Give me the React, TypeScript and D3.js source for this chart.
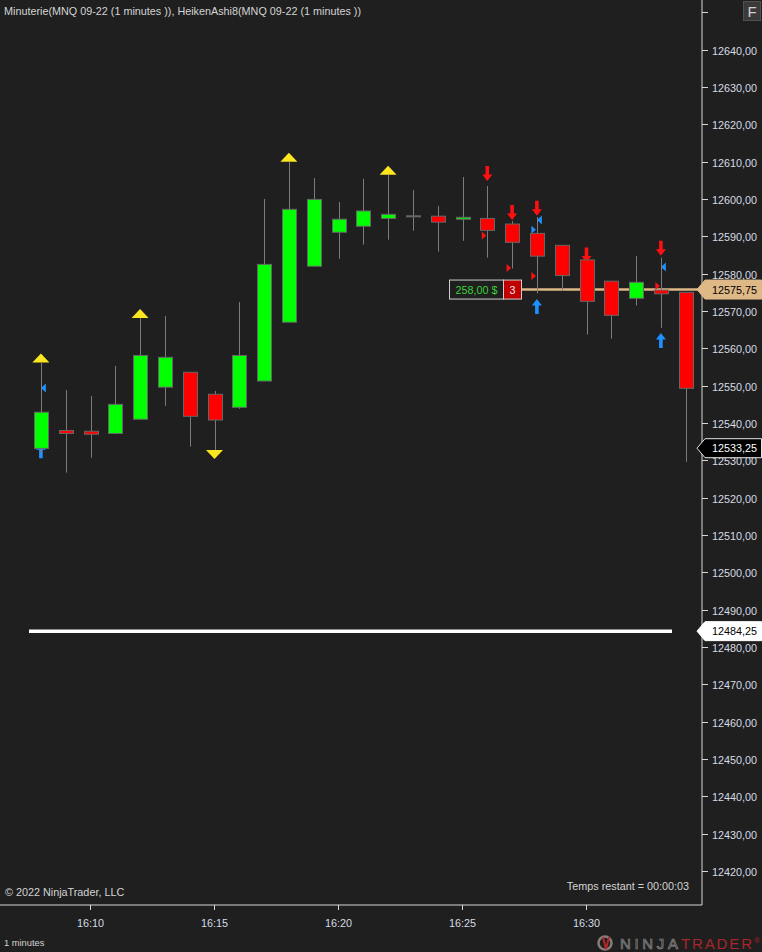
import React, { useEffect, useRef } from "react";
import * as d3 from "d3";

// Heiken Ashi bars, MNQ 09-22, 1 minute
const times = ["16:08", "16:09", "16:10", "16:11", "16:12", "16:13", "16:14", "16:15", "16:16", "16:17", "16:18", "16:19", "16:20", "16:21", "16:22", "16:23", "16:24", "16:25", "16:26", "16:27", "16:28", "16:29", "16:30", "16:31", "16:32", "16:33", "16:34"];
const opens = [12533.2, 12538.0, 12537.8, 12537.2, 12541.0, 12549.6, 12553.6, 12547.7, 12544.2, 12551.25, 12567.0, 12582.0, 12591.1, 12592.7, 12594.8, 12595.5, 12595.4, 12594.6, 12594.8, 12593.3, 12590.8, 12587.6, 12583.7, 12578.0, 12573.4, 12575.6, 12575.0];
const closes = [12542.9, 12537.2, 12537.0, 12545.0, 12558.1, 12557.6, 12541.8, 12540.8, 12558.1, 12582.5, 12597.25, 12599.9, 12594.6, 12596.8, 12595.9, 12595.5, 12593.8, 12595.1, 12591.6, 12588.4, 12584.7, 12579.5, 12572.6, 12568.85, 12577.7, 12574.6, 12549.3];
const highs = [12556.2, 12548.8, 12547.2, 12555.3, 12568.1, 12568.7, 12553.6, 12548.6, 12572.4, 12600.0, 12610.0, 12605.6, 12599.2, 12605.4, 12606.5, 12602.4, 12598.1, 12605.9, 12603.5, 12594.1, 12595.2, 12587.6, 12583.7, 12578.0, 12584.7, 12584.3, 12575.0];
const lows = [12532.0, 12526.7, 12530.7, 12537.0, 12541.0, 12544.6, 12533.7, 12532.8, 12543.8, 12551.25, 12567.0, 12582.0, 12584.0, 12587.8, 12589.1, 12591.5, 12585.9, 12588.8, 12584.3, 12581.4, 12574.7, 12575.4, 12563.7, 12562.6, 12571.5, 12565.5, 12529.6];

// indicator markers (bar index, price of the tip)
const yellowUp = [0, 4, 10, 14];
const yellowDown = [7];
const redDownArrows = [
  { i: 18, price: 12604.8 },
  { i: 19, price: 12594.4 },
  { i: 20, price: 12595.5 },
  { i: 22, price: 12583.0 },
  { i: 25, price: 12584.8 },
];
const blueUpArrows = [
  { i: 0, price: 12534.6 },
  { i: 20, price: 12573.2 },
  { i: 25, price: 12564.1 },
];
const blueLeftTri = [
  { i: 0, price: 12549.4 },
  { i: 20, price: 12594.4 },
  { i: 25, price: 12581.8 },
];
const blueRightTri = [{ i: 20, price: 12591.8 }];
const redRightTri = [
  { i: 18, price: 12590.2 },
  { i: 19, price: 12581.5 },
  { i: 20, price: 12579.4 },
  { i: 25, price: 12576.7 },
];

// axis
const priceTicks = d3.range(12420, 12651, 10);
const timeTicks = ["16:10", "16:15", "16:20", "16:25", "16:30"];

// price lines
const positionPrice = 12575.75;
const lastPrice = 12533.25;
const levelPrice = 12484.25;
const pnlText = "258,00 $";
const qtyText = "3";

const W = 762;
const H = 952;
const BG = "#1f1f1f";
const FONT = "'Liberation Sans', Arial, sans-serif";
const FS = "10.8px";
const AXIS_X = 702;
const AXIS_Y = 905;

const fmt = (v: number) => v.toFixed(2).replace(".", ",");

const App: React.FC = () => {
  const ref = useRef<SVGSVGElement>(null);

  useEffect(() => {
    if (!ref.current) return;
    const svg = d3.select(ref.current);
    svg.selectAll("*").remove();

    const parse = d3.timeParse("%H:%M");
    const t0 = parse("16:10")!;
    const t1 = parse("16:30")!;
    const x = d3.scaleTime().domain([t0, t1]).range([90.5, 586.5]);
    const y = d3.scaleLinear().domain([12420, 12640]).range([871, 49.7]);
    const xi = (i: number) => x(parse(times[i])!);

    svg.append("rect").attr("width", W).attr("height", H).attr("fill", BG);

    // title
    svg
      .append("text")
      .attr("x", 4)
      .attr("y", 15)
      .attr("fill", "#d4d4d4")
      .style("font", `${FS} ${FONT}`)
      .text("Minuterie(MNQ 09-22 (1 minutes )), HeikenAshi8(MNQ 09-22 (1 minutes ))");

    // right axis
    svg.append("line").attr("x1", AXIS_X).attr("x2", AXIS_X).attr("y1", 0).attr("y2", AXIS_Y)
      .attr("stroke", "#d8d8d8").attr("stroke-width", 1);
    const py = svg.append("g");
    priceTicks.forEach((p) => {
      const yy = Math.round(y(p)) + 0.5;
      py.append("line").attr("x1", AXIS_X).attr("x2", AXIS_X + 6).attr("y1", yy).attr("y2", yy)
        .attr("stroke", "#d8d8d8");
      if (p < 12645) {
        py.append("text").attr("x", 712).attr("y", yy + 4).attr("fill", "#d6dce6")
          .style("font", `${FS} ${FONT}`).text(fmt(p));
      }
    });

    // bottom axis
    svg.append("line").attr("x1", 0).attr("x2", AXIS_X).attr("y1", AXIS_Y).attr("y2", AXIS_Y)
      .attr("stroke", "#d8d8d8");
    timeTicks.forEach((t) => {
      const xx = Math.round(x(parse(t)!)) - 0.5;
      svg.append("line").attr("x1", xx).attr("x2", xx).attr("y1", AXIS_Y).attr("y2", AXIS_Y + 5)
        .attr("stroke", "#d8d8d8");
      svg.append("text").attr("x", xx).attr("y", 927).attr("text-anchor", "middle")
        .attr("fill", "#d6dce6").style("font", `${FS} ${FONT}`).text(t);
    });

    // level line
    svg.append("line").attr("x1", 29).attr("x2", 672).attr("y1", y(levelPrice)).attr("y2", y(levelPrice))
      .attr("stroke", "#ffffff").attr("stroke-width", 3.5);

    // position line
    svg.append("line").attr("x1", 521).attr("x2", 698).attr("y1", y(positionPrice)).attr("y2", y(positionPrice))
      .attr("stroke", "#deb887").attr("stroke-width", 2.5);

    const m = svg.append("g");
    const triUp = (cx: number, by: number) => `M${cx - 8.5},${by}L${cx + 8.5},${by}L${cx},${by - 9}Z`;
    const triDown = (cx: number, ty: number) => `M${cx - 8.5},${ty}L${cx + 8.5},${ty}L${cx},${ty + 9}Z`;
    const arrowDown = (cx: number, ty: number) =>
      `M${cx - 1.8},${ty - 15}L${cx + 1.8},${ty - 15}L${cx + 1.8},${ty - 6.5}L${cx + 5},${ty - 6.5}L${cx},${ty}L${cx - 5},${ty - 6.5}L${cx - 1.8},${ty - 6.5}Z`;
    const arrowUp = (cx: number, ty: number) =>
      `M${cx - 1.8},${ty + 15}L${cx + 1.8},${ty + 15}L${cx + 1.8},${ty + 6.5}L${cx + 5},${ty + 6.5}L${cx},${ty}L${cx - 5},${ty + 6.5}L${cx - 1.8},${ty + 6.5}Z`;

    yellowUp.forEach((i) => m.append("path").attr("d", triUp(xi(i), y(highs[i]))).attr("fill", "#fbe620"));
    yellowDown.forEach((i) => m.append("path").attr("d", triDown(xi(i), y(lows[i]))).attr("fill", "#fbe620"));
    redDownArrows.forEach((d) => m.append("path").attr("d", arrowDown(xi(d.i), y(d.price))).attr("fill", "#ff1010"));
    blueUpArrows.forEach((d) => m.append("path").attr("d", arrowUp(xi(d.i), y(d.price))).attr("fill", "#1e90ff"));
    blueLeftTri.forEach((d) => {
      const cx = xi(d.i);
      const cy = y(d.price);
      m.append("path").attr("d", `M${cx},${cy}L${cx + 5},${cy - 4.5}L${cx + 5},${cy + 4.5}Z`).attr("fill", "#1e90ff");
    });
    blueRightTri.forEach((d) => {
      const cx = xi(d.i) - 1;
      const cy = y(d.price);
      m.append("path").attr("d", `M${cx},${cy}L${cx - 4.5},${cy - 4}L${cx - 4.5},${cy + 4}Z`).attr("fill", "#1e90ff");
    });
    redRightTri.forEach((d) => {
      const cx = xi(d.i) - 1;
      const cy = y(d.price);
      m.append("path").attr("d", `M${cx},${cy}L${cx - 4.5},${cy - 4}L${cx - 4.5},${cy + 4}Z`).attr("fill", "#ff1010");
    });

    // candles
    const c = svg.append("g");
    times.forEach((_, i) => {
      const cx = Math.round(xi(i)) + 0.5;
      c.append("line").attr("x1", cx).attr("x2", cx).attr("y1", y(highs[i])).attr("y2", y(lows[i]))
        .attr("stroke", "#7c7c7c").attr("stroke-width", 1);
      const top = y(Math.max(opens[i], closes[i]));
      const bot = y(Math.min(opens[i], closes[i]));
      const color = closes[i] > opens[i] ? "#00ff00" : closes[i] < opens[i] ? "#ff0000" : "#7c7c7c";
      c.append("rect").attr("x", cx - 7).attr("y", top).attr("width", 14).attr("height", Math.max(1, bot - top))
        .attr("fill", color).attr("stroke", "#666666").attr("stroke-width", 1);
    });

    // position box
    const pY = y(positionPrice);
    const ob = svg.append("g");
    ob.append("rect").attr("x", 449.5).attr("y", pY - 9.5).attr("width", 54).attr("height", 19)
      .attr("fill", BG).attr("stroke", "#cfcfcf");
    ob.append("rect").attr("x", 503.5).attr("y", pY - 9.5).attr("width", 18).attr("height", 19)
      .attr("fill", "#c00000").attr("stroke", "#cfcfcf");
    ob.append("text").attr("x", 476.5).attr("y", pY + 4).attr("text-anchor", "middle").attr("fill", "#3ad13a")
      .style("font", `${FS} ${FONT}`).text(pnlText);
    ob.append("text").attr("x", 512.5).attr("y", pY + 4).attr("text-anchor", "middle").attr("fill", "#e8e8e8")
      .style("font", `${FS} ${FONT}`).text(qtyText);

    // price markers on axis
    const tag = (p: number, fill: string, stroke: string, txt: string) => {
      const cy = y(p);
      svg.append("path")
        .attr("d", `M697,${cy}L705,${cy - 9.5}L761.5,${cy - 9.5}L761.5,${cy + 9.5}L705,${cy + 9.5}Z`)
        .attr("fill", fill).attr("stroke", stroke).attr("stroke-width", 1);
      svg.append("text").attr("x", 712).attr("y", cy + 4).attr("fill", txt)
        .style("font", `${FS} ${FONT}`).text(fmt(p));
    };
    tag(positionPrice, "#deb887", "#deb887", "#000000");
    tag(lastPrice, "#000000", "#e8e8e8", "#ffffff");
    tag(levelPrice, "#ffffff", "#ffffff", "#000000");

    // F button
    svg.append("rect").attr("x", 743.5).attr("y", 1.5).attr("width", 17).attr("height", 19)
      .attr("fill", "#3a3a3a").attr("stroke", "#505050");
    svg.append("text").attr("x", 752).attr("y", 17).attr("text-anchor", "middle").attr("fill", "#cfcfcf")
      .style("font", `15px ${FONT}`).text("F");

    // footer texts
    svg.append("text").attr("x", 5).attr("y", 896).attr("fill", "#d4d4d4")
      .style("font", `${FS} ${FONT}`).text("© 2022 NinjaTrader, LLC");
    svg.append("text").attr("x", 689).attr("y", 890).attr("text-anchor", "end").attr("fill", "#d4d4d4")
      .style("font", `${FS} ${FONT}`).text("Temps restant = 00:00:03");
    svg.append("text").attr("x", 4).attr("y", 946).attr("fill", "#d4d4d4")
      .style("font", `9.3px ${FONT}`).text("1 minutes");

    // logo
    const lg = svg.append("g");
    lg.append("circle").attr("cx", 605).attr("cy", 943).attr("r", 6.5).attr("fill", "none")
      .attr("stroke", "#8a7c76").attr("stroke-width", 2.5);
    lg.append("path").attr("d", "M603,937L606,949L609,937").attr("fill", "none").attr("stroke", "#b0282c").attr("stroke-width", 2);
    lg.append("text").attr("x", 620).attr("y", 949).attr("fill", "none").attr("stroke", "#8a8a8a")
      .attr("stroke-width", 0.7).attr("textLength", 58).style("font", `15px ${FONT}`).text("NINJA");
    lg.append("text").attr("x", 681).attr("y", 949).attr("fill", "#a8262b").attr("textLength", 71)
      .style("font", `15px ${FONT}`).text("TRADER");
    lg.append("text").attr("x", 754).attr("y", 943).attr("fill", "#a8262b")
      .style("font", `8px ${FONT}`).text("®");
  }, []);

  return (
    <svg
      ref={ref}
      width={W}
      height={H}
      style={{ position: "absolute", left: 0, top: 0, display: "block" }}
    />
  );
};

export default App;
